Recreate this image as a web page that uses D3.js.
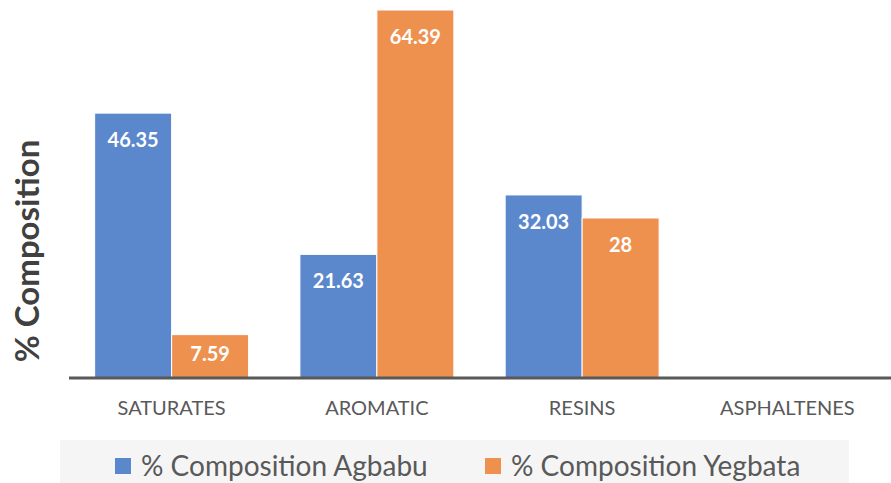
<!DOCTYPE html>
<html>
<head>
<meta charset="utf-8">
<script src="https://cdn.jsdelivr.net/npm/d3@7"></script>
<style>
body{margin:0;background:#fff;}
text{font-family:Lato,"Open Sans",sans-serif;}
</style>
</head>
<body>
<script>
var categories = ["SATURATES","AROMATIC","RESINS","ASPHALTENES"];
var seriesNames = ["% Composition Agbabu","% Composition Yegbata"];
var agbabu = [46.35,21.63,32.03,null];
var yegbata = [7.59,64.39,28,null];
var colors = ["#5b87cd","#ee914f"];

var width = 891;
var height = 483;

var svg = d3.select("body")
.append("svg")
.attr("width",width)
.attr("height",height);

var baseY = 378;

var xScale = d3.scaleBand()
.domain(categories)
.range([69,890])
.paddingInner(0.25)
.paddingOuter(0.125);

var xInner = d3.scaleBand()
.domain([0,1])
.range([0,xScale.bandwidth()]);

var yScale = d3.scaleLinear()
.domain([0,70])
.range([baseY,baseY - 70*5.715]);

var rows = [];
categories.forEach(function(c,i){
	[agbabu[i],yegbata[i]].forEach(function(v,s){
		if(v != null) rows.push({cat:c,s:s,v:v});
	});
});

svg.selectAll(".bar")
.data(rows)
.enter()
.append("rect")
.attr("class","bar")
.attr("x",function(d){ return xScale(d.cat) + xInner(d.s); })
.attr("y",function(d){ return yScale(d.v); })
.attr("width",xInner.bandwidth())
.attr("height",function(d){ return baseY - yScale(d.v); })
.attr("fill",function(d){ return colors[d.s]; })
.attr("stroke","#fff")
.attr("stroke-width",1);

svg.selectAll(".lbl")
.data(rows)
.enter()
.append("text")
.attr("class","lbl")
.attr("x",function(d){ return xScale(d.cat) + xInner(d.s) + xInner.bandwidth()/2; })
.attr("y",function(d){
	var top = yScale(d.v);
	return Math.min(top + 27,(top + baseY)/2 - 2);
})
.attr("dy","0.35em")
.attr("text-anchor","middle")
.attr("fill","#fff")
.attr("font-weight","bold")
.attr("font-size","20px")
.text(function(d){ return d.v; });

// x axis
var xAxis = d3.axisBottom(xScale).tickSize(0).tickPadding(23);
var gx = svg.append("g")
.attr("transform","translate(0," + baseY + ")")
.call(xAxis);
gx.select(".domain").remove();
gx.selectAll("text")
.attr("font-size","20px")
.attr("fill","#595959")
.style("font-family","Lato,'Open Sans',sans-serif");

svg.append("line")
.attr("x1",69).attr("x2",891)
.attr("y1",baseY).attr("y2",baseY)
.attr("stroke","#595959")
.attr("stroke-width",3);

// y title
svg.append("text")
.attr("transform","translate(39,251) rotate(-90)")
.attr("text-anchor","middle")
.attr("font-size","33px")
.attr("font-weight","bold")
.attr("fill","#404040")
.text("% Composition");

// legend
svg.append("rect")
.attr("x",60).attr("y",440)
.attr("width",789).attr("height",43)
.attr("fill","#f5f5f5");

var legX = [115,485];
var leg = svg.selectAll(".leg")
.data(seriesNames)
.enter()
.append("g")
.attr("transform",function(d,i){ return "translate(" + legX[i] + ",458)"; });

leg.append("rect")
.attr("width",16).attr("height",16)
.attr("fill",function(d,i){ return colors[i]; });

leg.append("text")
.attr("x",26).attr("y",8)
.attr("dy","0.35em")
.attr("font-size","28px")
.attr("fill","#595959")
.text(function(d){ return d; });
</script>
</body>
</html>
